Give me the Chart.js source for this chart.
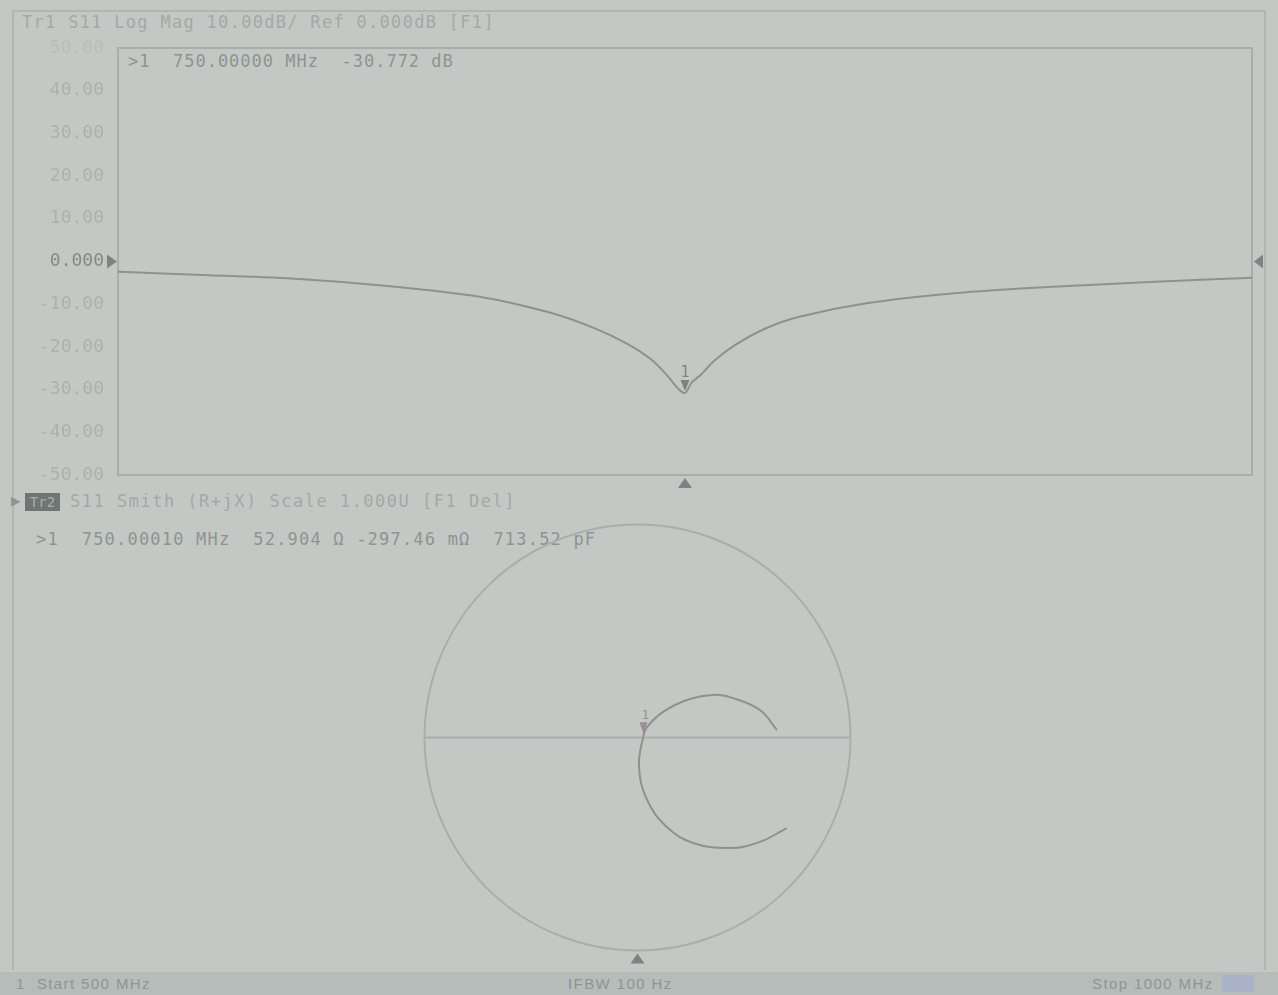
<!DOCTYPE html>
<html>
<head>
<meta charset="utf-8">
<script src="https://cdn.jsdelivr.net/npm/chart.js@4.4.1/dist/chart.umd.min.js"></script>
<style>
  body { margin: 0; width: 1278px; height: 995px; overflow: hidden; position: relative;
         background: #c3c8c5; font-family: "DejaVu Sans Mono", monospace; }
  .frame { position: absolute; left: 12px; top: 10px; width: 1254px; height: 960px;
           border: 2px solid #b0b6b3; border-bottom: none; box-sizing: border-box; }
  .txt { position: absolute; white-space: pre; font-size: 17px; color: #a3a9a6; letter-spacing: 1.3px; }
  .dark { color: #8e9491; }
  canvas { position: absolute; left: 0; }
  #status { position: absolute; left: 0; top: 972px; width: 1278px; height: 23px; background: #b6bcb9;
            font-family: "Liberation Sans", sans-serif; font-size: 15px; color: #8f9592; letter-spacing: 1.4px; }
  #status span { position: absolute; top: 3px; white-space: pre; }
  #tr2box { position: absolute; left: 25px; top: 493px; width: 35px; height: 18px; background: #6f7572;
            color: #a9afac; font-size: 14px; line-height: 18px; text-align: center; }
</style>
</head>
<body>
<div class="frame"></div>
<div class="txt" style="left:22px;top:12px">Tr1 S11 Log Mag 10.00dB/ Ref 0.000dB [F1]</div>
<div class="txt dark" style="left:128px;top:51px;letter-spacing:1.0px">&gt;1  750.00000 MHz  -30.772 dB</div>
<div class="txt dark" style="left:11px;top:491px;font-size:16px">&#9654;</div>
<div id="tr2box">Tr2</div>
<div class="txt" style="left:70px;top:491px;letter-spacing:1.5px">S11 Smith (R+jX) Scale 1.000U [F1 Del]</div>
<div class="txt dark" style="left:36px;top:529px;letter-spacing:1.2px">&gt;1  750.00010 MHz  52.904 &#937; -297.46 m&#937;  713.52 pF</div>

<canvas id="logmag" width="1278" height="490" style="top:0"></canvas>
<canvas id="smith" width="1278" height="480" style="top:490px"></canvas>

<div id="status">
  <span style="left:16px">1  Start 500 MHz</span>
  <span style="left:568px">IFBW 100 Hz</span>
  <span style="left:1092px">Stop 1000 MHz</span>
  <span style="left:1222px;top:3px;width:32px;height:17px;background:#a9b2c6"></span>
</div>

<script>
// Tr1: S11 log magnitude (dB) vs frequency (MHz)
const freqMHz = [500, 540, 580, 620, 660, 690, 710, 725, 735, 742, 747, 750,
                 753, 757, 763, 772, 785, 800, 830, 870, 910, 955, 1000];
const s11LogMag = [-2.4, -3.2, -4.1, -5.8, -8.3, -11.9, -15.6, -19.4, -22.9, -26.6, -29.8, -30.8,
                   -28.3, -26.5, -23.2, -19.6, -15.8, -13.0, -9.8, -7.4, -6.0, -4.8, -3.8];
const yTicksDb = [-50, -40, -30, -20, -10, 0, 10, 20, 30, 40, 50];
const marker1 = { freq: 750, db: -30.772 };

// Tr2: S11 on Smith chart, reflection coefficient real / imaginary parts
const smithRe = [0.701, 0.575, 0.434, 0.261, 0.138, 0.045, 0.007, 0.026, 0.045, 0.120, 0.232, 0.354, 0.448, 0.575, 0.655];
const smithIm = [-0.425, -0.490, -0.519, -0.495, -0.420, -0.293, -0.138, 0.000, 0.049, 0.120, 0.176, 0.200, 0.185, 0.129, 0.035];
const smithMarker = { re: 0.028, im: -0.003 };

const lineCol = '#8c928f';
const gridCol = '#a8aeab';

function tri(ctx, x, y, w, h, dir) {
  ctx.beginPath();
  if (dir === 'down') { ctx.moveTo(x, y); ctx.lineTo(x - w / 2, y - h); ctx.lineTo(x + w / 2, y - h); }
  if (dir === 'up') { ctx.moveTo(x, y); ctx.lineTo(x - w / 2, y + h); ctx.lineTo(x + w / 2, y + h); }
  if (dir === 'right') { ctx.moveTo(x, y); ctx.lineTo(x - w, y - h / 2); ctx.lineTo(x - w, y + h / 2); }
  if (dir === 'left') { ctx.moveTo(x, y); ctx.lineTo(x + w, y - h / 2); ctx.lineTo(x + w, y + h / 2); }
  ctx.closePath();
  ctx.fill();
}

const logmagDecor = {
  id: 'logmagDecor',
  beforeDatasetsDraw(chart) {
    const { ctx, chartArea: a } = chart;
    ctx.save();
    ctx.strokeStyle = gridCol;
    ctx.lineWidth = 2;
    ctx.strokeRect(a.left, a.top, a.right - a.left, a.bottom - a.top);
    ctx.restore();
  },
  afterDatasetsDraw(chart) {
    const { ctx, chartArea: a, scales } = chart;
    const y0 = scales.y.getPixelForValue(0);
    const mx = scales.x.getPixelForValue(marker1.freq);
    const my = scales.y.getPixelForValue(marker1.db);
    ctx.save();
    ctx.fillStyle = '#7d8380';
    tri(ctx, a.left - 1, y0, 10, 14, 'right');
    tri(ctx, a.right + 2, y0, 9, 14, 'left');
    tri(ctx, mx, my - 2, 9, 11, 'down');
    tri(ctx, mx, a.bottom + 3, 14, 10, 'up');
    ctx.font = '15px "DejaVu Sans Mono"';
    ctx.textAlign = 'center';
    ctx.fillText('1', mx, my - 16);
    ctx.restore();
  }
};

new Chart(document.getElementById('logmag'), {
  type: 'line',
  data: {
    labels: freqMHz,
    datasets: [{
      data: freqMHz.map((f, i) => ({ x: f, y: s11LogMag[i] })),
      borderColor: lineCol,
      borderWidth: 2,
      pointRadius: 0,
      tension: 0.3
    }]
  },
  options: {
    responsive: false,
    animation: false,
    layout: { padding: { left: 0, right: 26, top: 48, bottom: 15 } },
    plugins: { legend: { display: false }, tooltip: { enabled: false } },
    scales: {
      x: { type: 'linear', min: 500, max: 1000, display: false },
      y: {
        min: -50, max: 50,
        afterFit(s) { s.width = 118; s.paddingTop = 0; s.paddingBottom = 0; },
        afterBuildTicks(s) { s.ticks = yTicksDb.map(v => ({ value: v })); },
        grid: { display: false, drawTicks: false },
        border: { display: false },
        ticks: {
          padding: 14,
          font: { family: 'DejaVu Sans Mono', size: 18 },
          color: c => c.tick.value === 0 ? '#848a87' : (c.tick.value === 50 ? '#b8bebb' : '#abb1ae'),
          callback: v => v === 0 ? '0.000' : v.toFixed(2)
        }
      }
    }
  },
  plugins: [logmagDecor]
});

const smithDecor = {
  id: 'smithDecor',
  beforeDatasetsDraw(chart) {
    const { ctx, scales } = chart;
    const cx = scales.x.getPixelForValue(0);
    const cy = scales.y.getPixelForValue(0);
    const r = scales.x.getPixelForValue(1) - cx;
    ctx.save();
    ctx.strokeStyle = gridCol;
    ctx.lineWidth = 2;
    ctx.beginPath();
    ctx.arc(cx, cy, r, 0, Math.PI * 2);
    ctx.stroke();
    ctx.beginPath();
    ctx.moveTo(scales.x.getPixelForValue(-1), cy);
    ctx.lineTo(scales.x.getPixelForValue(1), cy);
    ctx.stroke();
    ctx.restore();
  },
  afterDatasetsDraw(chart) {
    const { ctx, scales } = chart;
    const mx = scales.x.getPixelForValue(smithMarker.re);
    const my = scales.y.getPixelForValue(smithMarker.im);
    ctx.save();
    ctx.fillStyle = '#9a8f95';
    tri(ctx, mx, my - 4, 8, 12, 'down');
    ctx.font = '13px "DejaVu Sans Mono"';
    ctx.textAlign = 'center';
    ctx.fillText('1', mx + 2, my - 19);
    ctx.fillStyle = '#7d8380';
    tri(ctx, scales.x.getPixelForValue(0), scales.y.getPixelForValue(-1) + 3, 14, 10, 'up');
    ctx.restore();
  }
};

new Chart(document.getElementById('smith'), {
  type: 'scatter',
  data: {
    datasets: [{
      data: smithRe.map((re, i) => ({ x: re, y: smithIm[i] })),
      showLine: true,
      borderColor: lineCol,
      borderWidth: 2,
      pointRadius: 0,
      tension: 0.4
    }]
  },
  options: {
    responsive: false,
    animation: false,
    layout: { padding: { left: 424.5, right: 427.5, top: 34.5, bottom: 19.5 } },
    plugins: { legend: { display: false }, tooltip: { enabled: false } },
    scales: {
      x: { min: -1, max: 1, display: false },
      y: { min: -1, max: 1, display: false }
    }
  },
  plugins: [smithDecor]
});
</script>
</body>
</html>
